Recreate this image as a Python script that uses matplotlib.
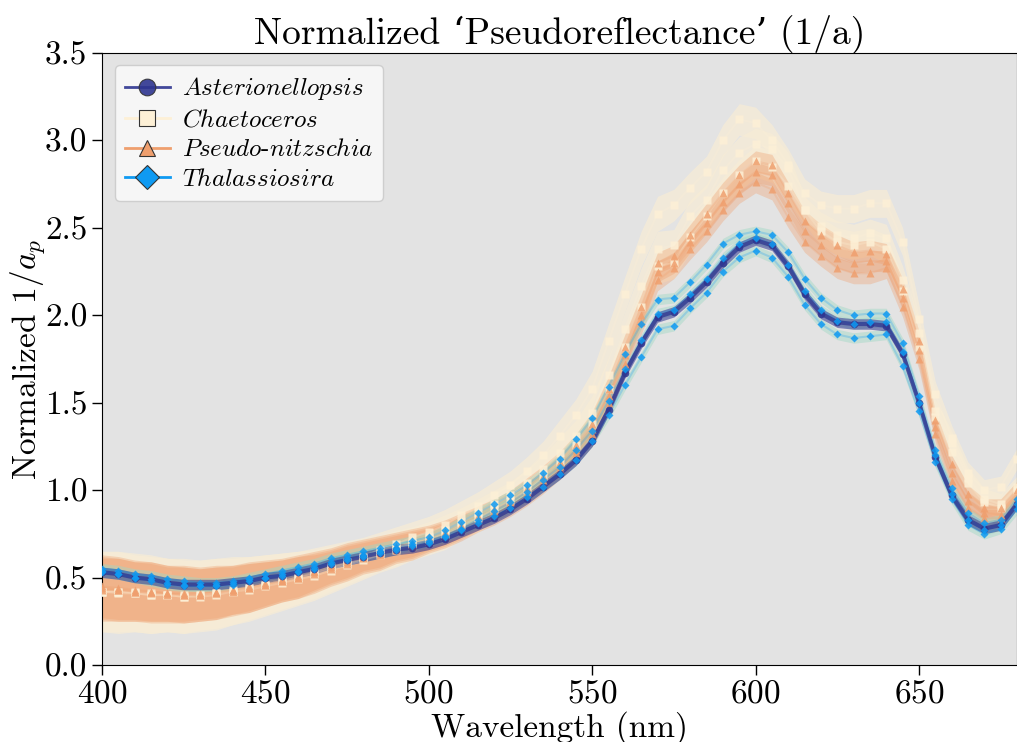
import numpy as np
import matplotlib
matplotlib.use("Agg")
import matplotlib.pyplot as plt
from matplotlib.lines import Line2D

plt.rcParams['font.family'] = ['cmr10', 'DejaVu Serif']
plt.rcParams['mathtext.fontset'] = 'cm'
plt.rcParams['axes.formatter.use_mathtext'] = True

#%% data (5 nm steps)
wavelength = list(range(400, 690, 5))

asterionellopsis = [
    .53, .52, .50, .49, .47, .46, .46, .46, .47, .48,
    .50, .51, .53, .55, .58, .60, .62, .64, .66, .67,
    .69, .72, .76, .80, .84, .89, .95, 1.02, 1.09, 1.17,
    1.28, 1.46, 1.67, 1.84, 1.99, 2.02, 2.10, 2.19, 2.30, 2.39,
    2.43, 2.40, 2.28, 2.12, 2.01, 1.96, 1.95, 1.95, 1.94, 1.78,
    1.50, 1.19, .97, .83, .78, .80, .92, 1.05]

thal_1 = [
    .55, .54, .52, .51, .49, .48, .47, .47, .48, .50,
    .52, .54, .56, .58, .61, .63, .65, .67, .69, .71,
    .73, .77, .82, .87, .92, .97, 1.03, 1.10, 1.18, 1.29,
    1.41, 1.59, 1.78, 1.95, 2.09, 2.10, 2.19, 2.29, 2.41, 2.46,
    2.48, 2.46, 2.36, 2.21, 2.10, 2.03, 2.00, 2.01, 2.01, 1.84,
    1.54, 1.23, 1.01, .87, .81, .83, .95, 1.08]
thal_2 = [
    .54, .52, .50, .49, .47, .46, .45, .46, .47, .49,
    .50, .52, .54, .56, .59, .61, .63, .65, .67, .69,
    .71, .74, .78, .83, .88, .93, .99, 1.06, 1.13, 1.23,
    1.34, 1.51, 1.69, 1.86, 2.01, 2.03, 2.12, 2.21, 2.33, 2.41,
    2.44, 2.41, 2.29, 2.14, 2.03, 1.97, 1.95, 1.96, 1.96, 1.79,
    1.50, 1.20, .98, .83, .77, .80, .92, 1.04]
thal_3 = [
    .53, .52, .50, .48, .46, .45, .45, .45, .46, .48,
    .50, .51, .53, .55, .58, .60, .62, .64, .66, .68,
    .70, .73, .77, .81, .85, .90, .96, 1.02, 1.09, 1.17,
    1.28, 1.43, 1.60, 1.76, 1.92, 1.94, 2.04, 2.13, 2.25, 2.33,
    2.37, 2.33, 2.22, 2.06, 1.95, 1.89, 1.87, 1.88, 1.89, 1.71,
    1.45, 1.16, .95, .80, .75, .78, .89, 1.01]

chaet_1 = [
    .42, .42, .42, .41, .40, .40, .40, .41, .43, .44,
    .46, .48, .50, .53, .56, .59, .62, .66, .69, .73,
    .76, .80, .86, .91, .97, 1.03, 1.11, 1.20, 1.31, 1.43,
    1.58, 1.85, 2.12, 2.38, 2.58, 2.63, 2.73, 2.82, 3.00, 3.12,
    3.10, 3.00, 2.86, 2.70, 2.63, 2.61, 2.61, 2.64, 2.64, 2.42,
    1.98, 1.55, 1.30, 1.10, 1.00, 1.02, 1.18, 1.38]
chaet_2 = [
    .42, .42, .41, .40, .40, .39, .40, .41, .42, .44,
    .46, .48, .50, .52, .55, .58, .61, .64, .67, .70,
    .73, .77, .82, .87, .92, .97, 1.04, 1.12, 1.21, 1.31,
    1.44, 1.66, 1.92, 2.17, 2.38, 2.40, 2.57, 2.66, 2.83, 2.93,
    2.98, 2.95, 2.84, 2.60, 2.51, 2.46, 2.44, 2.47, 2.44, 2.20,
    1.90, 1.45, 1.27, 1.07, .95, .92, 1.02, 1.16]
chaet_3 = [
    .42, .41, .41, .40, .40, .39, .39, .40, .42, .43,
    .45, .47, .49, .51, .54, .57, .60, .63, .66, .69,
    .72, .75, .80, .84, .89, .94, 1.00, 1.08, 1.16, 1.26,
    1.38, 1.58, 1.82, 2.05, 2.28, 2.30, 2.45, 2.57, 2.70, 2.80,
    2.88, 2.85, 2.74, 2.60, 2.48, 2.42, 2.40, 2.42, 2.38, 2.14,
    1.82, 1.42, 1.22, 1.04, .93, .90, 1.00, 1.14]

pseudo_1 = [
    .45, .44, .43, .42, .41, .41, .41, .42, .43, .45,
    .47, .49, .51, .54, .57, .60, .63, .65, .68, .70,
    .73, .76, .80, .85, .89, .94, 1.01, 1.08, 1.16, 1.26,
    1.38, 1.58, 1.82, 2.05, 2.30, 2.34, 2.46, 2.58, 2.70, 2.80,
    2.88, 2.86, 2.70, 2.54, 2.46, 2.40, 2.36, 2.37, 2.35, 2.15,
    1.85, 1.40, 1.15, .98, .90, .90, 1.00, 1.14]
pseudo_2 = [
    .44, .43, .42, .42, .41, .40, .40, .41, .43, .44,
    .46, .48, .50, .53, .56, .59, .62, .64, .67, .69,
    .72, .75, .79, .83, .88, .93, .99, 1.06, 1.14, 1.23,
    1.35, 1.54, 1.77, 2.00, 2.25, 2.30, 2.42, 2.53, 2.65, 2.75,
    2.82, 2.80, 2.64, 2.48, 2.40, 2.33, 2.30, 2.31, 2.31, 2.10,
    1.80, 1.36, 1.10, .94, .87, .86, .96, 1.10]
pseudo_3 = [
    .43, .43, .42, .41, .40, .40, .40, .41, .42, .44,
    .46, .48, .50, .52, .55, .58, .61, .63, .66, .68,
    .71, .74, .78, .82, .86, .91, .97, 1.04, 1.12, 1.21,
    1.32, 1.50, 1.72, 1.96, 2.20, 2.27, 2.38, 2.48, 2.60, 2.70,
    2.76, 2.72, 2.56, 2.42, 2.34, 2.27, 2.24, 2.24, 2.27, 2.05,
    1.75, 1.32, 1.05, .90, .84, .84, .94, 1.08]

chaet_std = [
    .23, .23, .22, .22, .21, .21, .20, .20, .19, .18,
    .17, .16, .15, .14, .13, .12, .11, .10, .10, .09,
    .09, .09, .08, .08, .08, .08, .08, .08, .09, .09,
    .10, .10, .10, .10, .10, .09, .09, .09, .09, .09,
    .09, .09, .09, .08, .08, .08, .08, .08, .08, .08,
    .08, .07, .07, .06, .06, .06, .06, .06]
pseudo_std = [
    .18, .18, .17, .17, .16, .16, .15, .15, .14, .14,
    .13, .12, .12, .11, .10, .10, .09, .09, .08, .08,
    .07, .07, .07, .06, .06, .06, .06, .06, .06, .06,
    .07, .07, .07, .07, .06, .06, .06, .06, .06, .06,
    .06, .06, .06, .06, .06, .06, .06, .06, .06, .06,
    .06, .05, .05, .05, .05, .05, .05, .05]
thal_std = 0.03
aster_std = 0.03

species = ['Asterionellopsis', 'Chaetoceros', 'Pseudo-nitzschia', 'Thalassiosira']
colors = {'Asterionellopsis': '#2e3590', 'Chaetoceros': '#fdf0d6',
          'Pseudo-nitzschia': '#ef9f6e', 'Thalassiosira': '#0f9af2'}
markers = {'Asterionellopsis': 'o', 'Chaetoceros': 's',
           'Pseudo-nitzschia': '^', 'Thalassiosira': 'D'}
band_colors = {'Asterionellopsis': ('#2e3590', 0.55), 'Chaetoceros': ('#f7ecd6', 0.75),
               'Pseudo-nitzschia': ('#ef9f6e', 0.35), 'Thalassiosira': ('#9fd8c4', 0.45)}

samples = {'Chaetoceros': ([chaet_1, chaet_2, chaet_3], chaet_std),
           'Pseudo-nitzschia': ([pseudo_1, pseudo_2, pseudo_3], pseudo_std),
           'Thalassiosira': ([thal_1, thal_2, thal_3], thal_std),
           'Asterionellopsis': ([asterionellopsis], aster_std)}

wl = np.array(wavelength)

fig, ax = plt.subplots(figsize=(10.17, 7.42), dpi=100)
fig.subplots_adjust(left=0.1003, right=1.0, bottom=0.1038, top=0.9286)
ax.set_facecolor('#e3e3e3')

draw_order = ['Chaetoceros', 'Pseudo-nitzschia', 'Thalassiosira', 'Asterionellopsis']
for sp in draw_order:
    curves, sd = samples[sp]
    bc, ba = band_colors[sp]
    for c in curves:
        c = np.array(c)
        s = np.array(sd) if np.ndim(sd) else sd
        ax.fill_between(wl, c - s, c + s, color=bc, alpha=ba, lw=0, zorder=1)
for sp in draw_order:
    curves, sd = samples[sp]
    lw = 3 if sp == 'Asterionellopsis' else 1.5
    la = 0.75 if sp == 'Asterionellopsis' else 0.25
    for c in curves:
        ax.plot(wl, c, color=colors[sp], lw=lw, alpha=la, zorder=2)
for sp in ['Chaetoceros', 'Pseudo-nitzschia', 'Asterionellopsis', 'Thalassiosira']:
    curves, sd = samples[sp]
    ms = 4.5 if sp == 'Thalassiosira' else 5.5
    for c in curves:
        ax.plot(wl, c, ls='none', marker=markers[sp], ms=ms,
                color=colors[sp], mec='none', alpha=0.85, zorder=3)

handles = [Line2D([], [], color=colors[sp], marker=markers[sp], ms=12,
                  mfc=colors[sp], mec='#333333', mew=0.8, lw=2,
                  alpha=1 if sp != 'Asterionellopsis' else 0.9)
           for sp in species]
labels = [r'$\mathit{Asterionellopsis}$', r'$\mathit{Chaetoceros}$',
          r'$\mathit{Pseudo}\text{-}\mathit{nitzschia}$', r'$\mathit{Thalassiosira}$']
leg = ax.legend(handles, labels, loc='upper left', fontsize=18, frameon=True,
                facecolor='#f8f8f8', edgecolor='#cccccc', framealpha=0.92,
                borderpad=0.4, labelspacing=0.28, handlelength=1.8,
                handletextpad=0.5, borderaxespad=0.5)

ax.set_xlim(400, 680)
ax.set_ylim(0, 3.5)
ax.set_xticks([400, 450, 500, 550, 600, 650])
ax.set_yticks([0.0, 0.5, 1.0, 1.5, 2.0, 2.5, 3.0, 3.5])
ax.set_yticklabels(['0.0', '0.5', '1.0', '1.5', '2.0', '2.5', '3.0', '3.5'])
ax.tick_params(labelsize=24, length=7, width=1)
ax.set_xlabel('Wavelength (nm)', fontsize=24, labelpad=2)
ax.set_ylabel(r'Normalized $1/a_p$', fontsize=24)
ax.yaxis.set_label_coords(-0.06, 0.5)
ax.set_title('Normalized \u2018Pseudoreflectance\u2019 (1/a)', fontsize=27, pad=6)

fig.savefig('out.png', dpi=100)
